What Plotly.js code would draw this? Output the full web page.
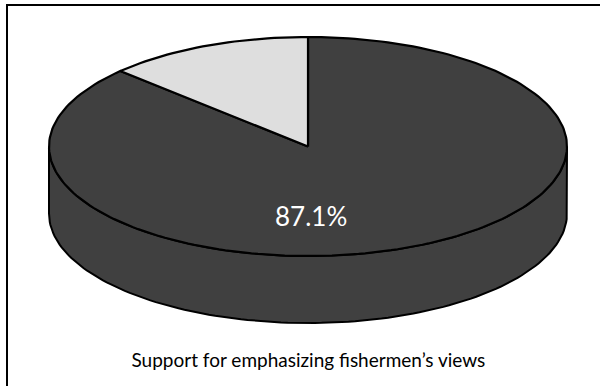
<!DOCTYPE html>
<html>
<head>
<meta charset="utf-8">
<script src="https://cdn.plot.ly/plotly-3.0.1.min.js"></script>
<style>
  html, body { margin: 0; padding: 0; background: #ffffff; }
  #chart { width: 600px; height: 386px; }
</style>
</head>
<body>
<div id="chart"></div>
<script>
// Share of respondents, in percent
const categories = ["Support", "Other"];
const values = [87.1, 12.9];
const sliceColors = ["#404040", "#dedede"];
const chartTitle = "Support for emphasizing fishermen\u2019s views";

// Tilted-disc geometry (screen pixels, y grows downward)
const cx = 308, cy = 146.5, rx = 259, ry = 109.5, depth = 67;
const W = 600, H = 386;

const rad = d => d * Math.PI / 180;
// angle measured counter-clockwise from 12 o'clock
function pt(a, drop) {
  return [cx - rx * Math.sin(rad(a)), cy - ry * Math.cos(rad(a)) + (drop || 0)];
}
function arc(a0, a1, drop) {
  const n = Math.max(2, Math.ceil(Math.abs(a1 - a0) / 1.5));
  const out = [];
  for (let i = 0; i <= n; i++) out.push(pt(a0 + (a1 - a0) * i / n, drop));
  return out;
}

// Slice angles: the smaller slice starts at 12 o'clock and sweeps counter-clockwise
const total = values.reduce((s, v) => s + v, 0);
const sweep = values.map(v => v / total * 360);
const spans = [];
spans[1] = [0, sweep[1]];
spans[0] = [sweep[1], sweep[1] + sweep[0]];

const traces = [];

// Visible front wall (angles 90..270 face the viewer)
values.forEach((v, i) => {
  const s0 = Math.max(spans[i][0], 90), s1 = Math.min(spans[i][1], 270);
  if (s1 <= s0) return;
  const top = arc(s0, s1, 0);
  const bot = arc(s1, s0, depth);
  const poly = top.concat(bot);
  poly.push(top[0]);
  traces.push({
    type: "scatter", mode: "lines", fill: "toself",
    x: poly.map(p => p[0]), y: poly.map(p => p[1]),
    fillcolor: sliceColors[i],
    line: { color: "#000000", width: 2 },
    hoverinfo: "skip", showlegend: false
  });
});

// Top faces of the slices
values.forEach((v, i) => {
  const poly = [[cx, cy]].concat(arc(spans[i][0], spans[i][1], 0));
  poly.push([cx, cy]);
  traces.push({
    type: "scatter", mode: "lines", fill: "toself",
    x: poly.map(p => p[0]), y: poly.map(p => p[1]),
    fillcolor: sliceColors[i],
    line: { color: "#000000", width: 2.2 },
    name: categories[i],
    hoverinfo: "skip", showlegend: false
  });
});

const layout = {
  width: W, height: H,
  margin: { l: 0, r: 0, t: 0, b: 0 },
  paper_bgcolor: "#ffffff", plot_bgcolor: "#ffffff",
  xaxis: { range: [0, W], visible: false, fixedrange: true },
  yaxis: { range: [H, 0], visible: false, fixedrange: true },
  showlegend: false,
  font: { family: "Lato, 'Open Sans', sans-serif", color: "#000000" },
  title: {
    text: chartTitle,
    font: { family: "Lato, 'Open Sans', sans-serif", size: 19, color: "#000000" },
    x: 0.514, xanchor: "center",
    y: 1 - 360 / H, yref: "container", yanchor: "middle"
  },
  annotations: [{
    x: cx + 3, y: cy + 0.635 * ry,
    xref: "x", yref: "y",
    text: values[0].toFixed(1) + "%",
    showarrow: false,
    font: { family: "Lato, 'Open Sans', sans-serif", size: 26, color: "#ffffff" },
    xanchor: "center", yanchor: "middle"
  }],
  shapes: [{
    type: "rect", xref: "x", yref: "y",
    x0: 7, y0: 5, x1: W + 20, y1: H + 20,
    line: { color: "#000000", width: 2 }, layer: "below"
  }]
};

Plotly.newPlot("chart", traces, layout, { staticPlot: true, displayModeBar: false });
</script>
</body>
</html>
